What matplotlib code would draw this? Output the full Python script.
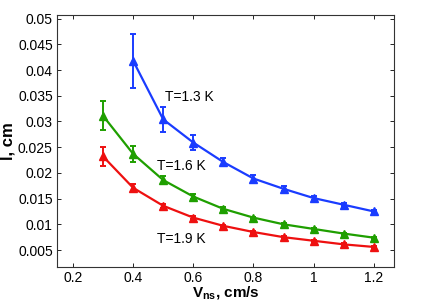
import numpy as np
import matplotlib
matplotlib.use('Agg')
import matplotlib.pyplot as plt

plt.rcParams['font.family'] = ['Liberation Sans', 'DejaVu Sans']
plt.rcParams['mathtext.fontset'] = 'custom'
plt.rcParams['mathtext.rm'] = 'Liberation Sans'
plt.rcParams['mathtext.bf'] = 'Liberation Sans:bold'

v = [0.3, 0.4, 0.5, 0.6, 0.7, 0.8, 0.9, 1.0, 1.1, 1.2]

# T = 1.3 K (no point at 0.3)
v13 = v[1:]
l13 = [0.0418, 0.0304, 0.0259, 0.0221, 0.0189, 0.0169, 0.0151, 0.0138, 0.0125]
e13 = [0.0053, 0.0024, 0.0015, 0.0008, 0.0006, 0.0005, 0.0004, 0.0003, 0.0002]

# T = 1.6 K
l16 = [0.0311, 0.0237, 0.0186, 0.0154, 0.0130, 0.0113, 0.0100, 0.0091, 0.0082, 0.0074]
e16 = [0.0028, 0.0015, 0.0007, 0.0004, 0.0003, 0.0002, 0.0002, 0.0002, 0.0002, 0.0002]

# T = 1.9 K
l19 = [0.0232, 0.0171, 0.0136, 0.0113, 0.0097, 0.0085, 0.0075, 0.0068, 0.0061, 0.0056]
e19 = [0.0018, 0.0007, 0.0004, 0.0003, 0.0002, 0.0002, 0.0002, 0.0002, 0.0002, 0.0002]

fig = plt.figure(figsize=(4.36, 3.05), dpi=100)
ax = fig.add_axes([57/436, 1 - 267/305, (394-57)/436, (267-15)/305])

kw = dict(marker='^', markersize=6, lw=1.6, capsize=2.5, elinewidth=1.4, capthick=1.4)
ax.errorbar(v13, l13, yerr=e13, color='#1a3cff', **kw)
ax.errorbar(v, l16, yerr=e16, color='#1f9f00', **kw)
ax.errorbar(v, l19, yerr=e19, color='#ee1010', **kw)

ax.text(0.505, 0.0348, 'T=1.3 K', fontsize=10, va='center')
ax.text(0.48, 0.0214, 'T=1.6 K', fontsize=10, va='center')
ax.text(0.48, 0.0071, 'T=1.9 K', fontsize=10, va='center')

ax.set_xlim(0.147, 1.267)
ax.set_ylim(0.0017, 0.0507)
ax.set_xticks([0.2, 0.4, 0.6, 0.8, 1.0, 1.2])
ax.set_xticklabels(['0.2', '0.4', '0.6', '0.8', '1', '1.2'])
ax.set_yticks([0.005, 0.01, 0.015, 0.02, 0.025, 0.03, 0.035, 0.04, 0.045, 0.05])
ax.set_yticklabels(['0.005', '0.01', '0.015', '0.02', '0.025', '0.03', '0.035', '0.04', '0.045', '0.05'])
ax.tick_params(direction='in', top=True, right=True, labelsize=10, length=3, width=0.6, pad=3)
for s in ax.spines.values():
    s.set_linewidth(0.8)
    s.set_color('#333333')

ax.set_xlabel(r'$\mathbf{V_{ns}}$, cm/s', fontsize=11, fontweight='bold', labelpad=-1)
ax.set_ylabel('l, cm', fontsize=12, fontweight='bold', labelpad=2)

fig.savefig('out.png', dpi=100)
